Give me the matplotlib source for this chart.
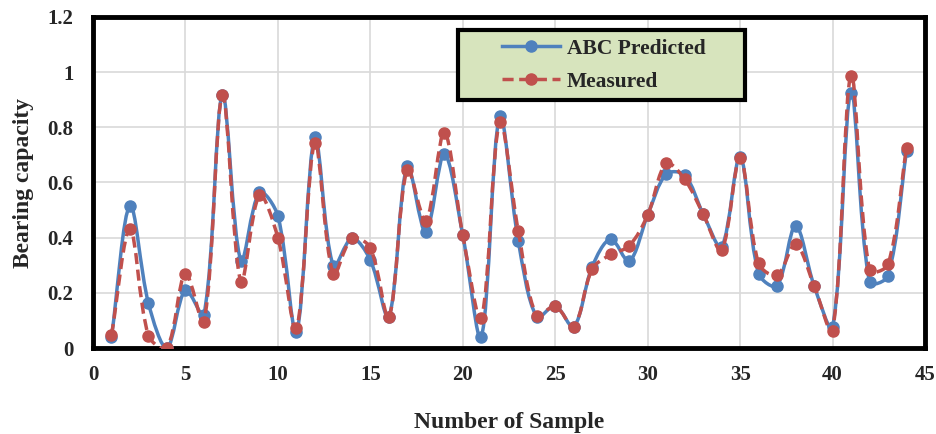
import numpy as np
import matplotlib
matplotlib.use('Agg')
from matplotlib import pyplot as plt
from matplotlib.path import Path
from matplotlib.patches import PathPatch, Rectangle
from matplotlib.lines import Line2D

# data
sample = list(range(1, 45))
abc_predicted = [0.04, 0.516, 0.162, 0.0, 0.21, 0.12, 0.917, 0.316, 0.564, 0.479,
                 0.057, 0.764, 0.297, 0.398, 0.319, 0.112, 0.66, 0.419, 0.703, 0.409,
                 0.039, 0.84, 0.389, 0.112, 0.153, 0.077, 0.295, 0.395, 0.315, 0.482,
                 0.63, 0.627, 0.486, 0.367, 0.693, 0.27, 0.226, 0.443, 0.226, 0.075,
                 0.926, 0.24, 0.262, 0.714]
measured = [0.047, 0.431, 0.045, 0.0, 0.27, 0.094, 0.917, 0.24, 0.554, 0.40,
            0.072, 0.742, 0.268, 0.398, 0.363, 0.112, 0.647, 0.461, 0.78, 0.409,
            0.108, 0.818, 0.425, 0.116, 0.153, 0.077, 0.286, 0.339, 0.37, 0.482,
            0.669, 0.612, 0.486, 0.355, 0.69, 0.307, 0.264, 0.376, 0.226, 0.062,
            0.987, 0.283, 0.303, 0.725]

series_names = ['ABC Predicted', 'Measured']
blue = '#4F81BD'
red = '#C0504D'
txt = '#262626'

plt.rcParams['font.family'] = ['Liberation Serif', 'DejaVu Serif']
plt.rcParams['font.weight'] = 'bold'

# pixels per data unit (so the smoothing behaves like Excel's, in screen space)
sx, sy = 18.5, 276.0


def smooth_path(x, y, t=1 / 3):
    # Excel-like smoothed line: bezier segments, tangents scaled by segment length
    pts = np.column_stack([np.array(x) * sx, np.array(y) * sy]).astype(float)
    n = len(pts)
    verts = [pts[0]]
    codes = [Path.MOVETO]
    for i in range(n - 1):
        p0 = pts[i - 1] if i > 0 else pts[i]
        p1 = pts[i]
        p2 = pts[i + 1]
        p3 = pts[i + 2] if i + 2 < n else pts[i + 1]
        d01 = np.hypot(*(p1 - p0))
        d12 = np.hypot(*(p2 - p1))
        d23 = np.hypot(*(p3 - p2))
        f1 = d12 / (d01 + d12) if d01 + d12 > 0 else 0
        f2 = d12 / (d12 + d23) if d12 + d23 > 0 else 0
        c1 = p1 + (p2 - p0) * t * f1
        c2 = p2 - (p3 - p1) * t * f2
        verts += [c1, c2, p2]
        codes += [Path.CURVE4] * 3
    verts = np.array(verts) / [sx, sy]
    return Path(verts, codes)


fig = plt.figure(figsize=(9.37, 4.34), dpi=100)
ax = fig.add_axes([93 / 937, 1 - 348 / 434, (925 - 93) / 937, (348 - 17) / 434])

dash = (0, (3.2, 1.6))
ax.add_patch(PathPatch(smooth_path(sample, abc_predicted), fill=False,
                       ec=blue, lw=2.5, zorder=3))
ax.plot(sample, abc_predicted, ls='none', marker='o', ms=8, color=blue, zorder=4)
ax.add_patch(PathPatch(smooth_path(sample, measured), fill=False,
                       ec=red, lw=2.5, ls=dash, zorder=5))
ax.plot(sample, measured, ls='none', marker='o', ms=8, color=red, zorder=6)

ax.set_xlim(0, 45)
ax.set_ylim(0, 1.2)
ax.set_xticks(range(0, 46, 5))
ax.set_yticks([0, 0.2, 0.4, 0.6, 0.8, 1.0, 1.2])
ax.set_yticklabels(['0', '0.2', '0.4', '0.6', '0.8', '1', '1.2'])
ax.grid(True, color='#D9D9D9', lw=1.2, zorder=0)
ax.tick_params(axis='x', length=0, labelsize=15, colors=txt, pad=12)
ax.tick_params(axis='y', length=0, labelsize=15, colors=txt, pad=14)
for lab in ax.get_xticklabels() + ax.get_yticklabels():
    lab.set_fontweight('bold')
for s in ax.spines.values():
    s.set_linewidth(3.5)
    s.set_color('black')

ax.set_xlabel('Number of Sample', fontsize=17, fontweight='bold', color=txt, labelpad=20)
ax.set_ylabel('Bearing capacity', fontsize=17, fontweight='bold', color=txt, labelpad=10)

# legend box (Excel-style shaded frame), entries placed inside
ax.add_patch(Rectangle(((458 - 93) / 832, 1 - (100 - 17) / 331), (745 - 458) / 832, 70 / 331,
                       transform=ax.transAxes, facecolor='#D7E4BD', edgecolor='black',
                       lw=3, zorder=9, clip_on=False))
handles = [Line2D([], [], color=blue, lw=2.5, marker='o', ms=8),
           Line2D([], [], color=red, lw=2.5, ls=dash, marker='o', ms=8)]
leg = ax.legend(handles, series_names, loc='center left',
                bbox_to_anchor=((502 - 93) / 832, 1 - (65 - 17) / 331),
                frameon=False, handlelength=2.7, fontsize=15.5, borderpad=0,
                labelspacing=0.6, borderaxespad=0, handletextpad=0.3)
leg.set_zorder(10)
for t in leg.get_texts():
    t.set_fontweight('bold')
    t.set_color(txt)

plt.savefig('out.png', dpi=100)
